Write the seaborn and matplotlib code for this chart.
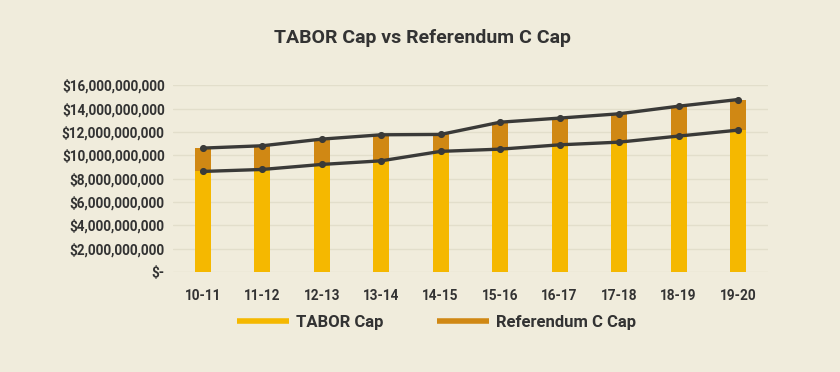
import pandas as pd
import matplotlib.pyplot as plt
import seaborn as sns
from matplotlib.lines import Line2D
from matplotlib.ticker import FuncFormatter

anos = ["10-11", "11-12", "12-13", "13-14", "14-15", "15-16", "16-17", "17-18", "18-19", "19-20"]
tabor_cap = [8.61e9, 8.78e9, 9.21e9, 9.52e9, 10.33e9, 10.52e9, 10.89e9, 11.12e9, 11.64e9, 12.15e9]
ref_c_cap = [10.61e9, 10.81e9, 11.38e9, 11.75e9, 11.78e9, 12.83e9, 13.18e9, 13.55e9, 14.20e9, 14.77e9]

FUNDO = "#F0ECDC"
AMARELO = "#F5B800"
LARANJA = "#D08814"
LINHA = "#3A3A38"
TEXTO = "#333333"

sns.set_theme(style="whitegrid")
plt.rcParams["font.family"] = ["Roboto", "DejaVu Sans"]

df = pd.DataFrame({"Ano": anos, "TABOR Cap": tabor_cap, "Referendum C Cap": ref_c_cap})

fig = plt.figure(figsize=(8.4, 3.72), dpi=100, facecolor=FUNDO)
ax = fig.add_axes([0.206, 0.269, 0.708, 0.502])
ax.set_facecolor(FUNDO)

# barras empilhadas: Ref C inteira por baixo, TABOR por cima
sns.barplot(data=df, x="Ano", y="Referendum C Cap", color=LARANJA, width=0.27,
            saturation=1, linewidth=0, edgecolor="none", ax=ax)
sns.barplot(data=df, x="Ano", y="TABOR Cap", color=AMARELO, width=0.27,
            saturation=1, linewidth=0, edgecolor="none", ax=ax)

for col in ["Referendum C Cap", "TABOR Cap"]:
    sns.pointplot(data=df, x="Ano", y=col, color=LINHA, markers="o",
                  markersize=3.3, linewidth=2.4, ax=ax)

ax.set_xlim(-0.5, 9.5)
ax.set_ylim(0, 16e9)
ax.set_yticks([i * 2e9 for i in range(9)])
ax.yaxis.set_major_formatter(FuncFormatter(lambda v, p: "$-" if v == 0 else f"${v:,.0f}"))
ax.grid(axis="y", color="#E2DECB", linewidth=1)
ax.grid(axis="x", visible=False)
for s in ax.spines.values():
    s.set_visible(False)
ax.set_xlabel("")
ax.set_ylabel("")
ax.tick_params(axis="both", length=0, labelsize=9.8, labelcolor=TEXTO)
ax.tick_params(axis="y", pad=6)
ax.tick_params(axis="x", pad=12)
for t in ax.get_xticklabels() + ax.get_yticklabels():
    t.set_fontweight("bold")

fig.text(0.503, 0.897, "TABOR Cap vs Referendum C Cap", ha="center", va="center",
         fontsize=14, fontweight="bold", color=TEXTO)

handles = [Line2D([0], [0], color=AMARELO, linewidth=4, solid_capstyle="butt"),
           Line2D([0], [0], color=LARANJA, linewidth=4, solid_capstyle="butt")]
fig.legend(handles, ["TABOR Cap", "Referendum C Cap"], loc="center",
           bbox_to_anchor=(0.52, 0.133), ncol=2, frameon=False,
           prop={"weight": "bold", "size": 12}, labelcolor=TEXTO,
           handlelength=3.1, columnspacing=3.2, handletextpad=0.45)

plt.savefig("out.png", dpi=100, facecolor=FUNDO)
